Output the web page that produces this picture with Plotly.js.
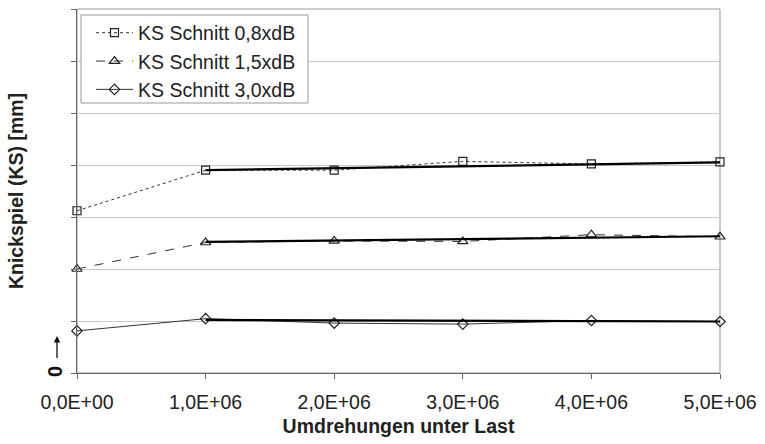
<!DOCTYPE html>
<html><head><meta charset="utf-8">
<script src="https://cdn.plot.ly/plotly-3.0.1.min.js"></script>
<style>body{margin:0;background:#fff}#chart{width:765px;height:444px}</style>
</head><body><div id="chart"></div>
<script>
const xVals = [0, 1e6, 2e6, 3e6, 4e6, 5e6];
const xTickVals = [0, 1e6, 2e6, 3e6, 4e6, 5e6];
const xTickText = ["0,0E+00", "1,0E+06", "2,0E+06", "3,0E+06", "4,0E+06", "5,0E+06"];
const seriesNames = ["KS Schnitt 0,8xdB", "KS Schnitt 1,5xdB", "KS Schnitt 3,0xdB"];
const ks08 = [3.12, 3.90, 3.90, 4.07, 4.02, 4.06];
const ks15 = [2.00, 2.51, 2.54, 2.53, 2.66, 2.62];
const ks30 = [0.81, 1.045, 0.96, 0.94, 1.01, 0.99];
const trendX = [1e6, 5e6];
const trend08 = [3.90, 4.05];
const trend15 = [2.52, 2.63];
const trend30 = [1.02, 0.99];

const F = "Liberation Sans, Arial, sans-serif";
const lineCol = "#333";
function series(y, name, dash, symbol, grp) {
  return {x: xVals, y: y, name: name, type: "scatter", mode: "lines+markers",
    cliponaxis: false, legendgroup: grp,
    line: {color: lineCol, width: 1, dash: dash},
    marker: {symbol: symbol, size: symbol === "triangle-up-open" ? 9 : 8, color: "#222", line: {width: 1.2, color: "#222"}}};
}
function trend(y) {
  return {x: trendX, y: y, type: "scatter", mode: "lines", showlegend: false, hoverinfo: "skip",
    line: {color: "#000", width: 2.2}};
}
const data = [
  series(ks08, seriesNames[0], "dot", "square-open", "a"),
  series(ks15, seriesNames[1], "dash", "triangle-up-open", "b"),
  series(ks30, seriesNames[2], "solid", "diamond-open", "c"),
  trend(trend08), trend(trend15), trend(trend30)
];
const W = 643, H = 364, L = 77, T = 9;
const px = v => (v - L) / W;
const py = v => (T + H - v) / H;
const layout = {
  width: 765, height: 444,
  margin: {l: 77, r: 45, t: 9, b: 71},
  paper_bgcolor: "#fff", plot_bgcolor: "#fff",
  font: {family: F, size: 19.5, color: "#222"},
  showlegend: true,
  legend: {x: px(91), y: py(13.5), xanchor: "left", yanchor: "top",
    bgcolor: "rgba(0,0,0,0)", borderwidth: 0, itemwidth: 37,
    font: {family: F, size: 19.5, color: "#222"},
    traceorder: "grouped", tracegroupgap: 0},
  xaxis: {range: [0, 5e6], tickvals: xTickVals, ticktext: xTickText,
    showgrid: false, zeroline: false, showline: true, linecolor: "#666", linewidth: 1,
    ticks: "outside", ticklen: 5, tickcolor: "#666", ticklabelstandoff: 7,
    tickfont: {family: F, size: 19.5, color: "#222"},
    title: {text: "<b>Umdrehungen unter Last</b>", font: {family: F, size: 19.5, color: "#222"}, standoff: 6}},
  yaxis: {range: [0, 7], dtick: 1, tick0: 0, showticklabels: false,
    showgrid: true, gridcolor: "#c8c8c8", gridwidth: 1, zeroline: false,
    showline: true, linecolor: "#666", linewidth: 1,
    ticks: "outside", ticklen: 5, tickcolor: "#666",
    title: {text: "<b>Knickspiel (KS) [mm]</b>", font: {family: F, size: 19.5, color: "#222"}, standoff: 42}},
  shapes: [
    {type: "rect", xref: "paper", yref: "paper", x0: 0, x1: 1, y0: 0, y1: 1,
      line: {color: "#999", width: 1}, fillcolor: "rgba(0,0,0,0)", layer: "below"},
    {type: "rect", xref: "paper", yref: "paper", x0: px(81), x1: px(308), y0: py(103), y1: py(15),
      line: {color: "#999", width: 1}, fillcolor: "#fff", layer: "above"}
  ],
  annotations: [
    {xref: "paper", yref: "paper", x: px(55), y: py(372), xanchor: "center", yanchor: "middle",
      text: "<b>0</b>", textangle: -90, showarrow: false, font: {family: F, size: 20, color: "#111"}},
    {xref: "paper", yref: "paper", x: px(57), y: py(336), text: " ", showarrow: true,
      ax: 0, ay: 24, arrowhead: 2, arrowsize: 1, arrowwidth: 1.3,
      arrowcolor: "#111", standoff: 0, startstandoff: 0, font: {size: 1}}
  ]
};
Plotly.newPlot("chart", data, layout, {displayModeBar: false, staticPlot: true});
</script></body></html>
